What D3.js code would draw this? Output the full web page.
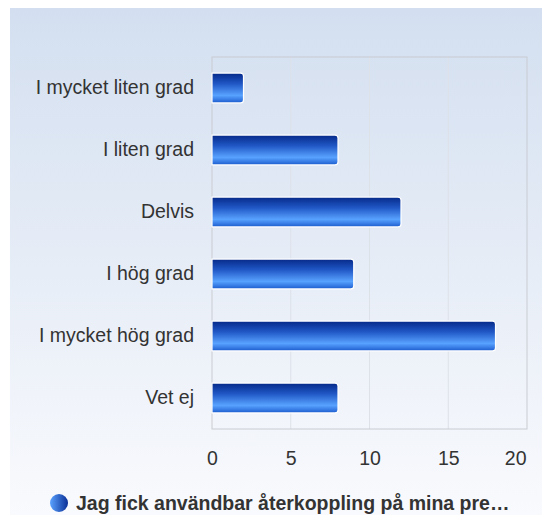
<!DOCTYPE html>
<html>
<head>
<meta charset="utf-8">
<script src="https://cdn.jsdelivr.net/npm/d3@7"></script>
<style>
  body { margin: 0; background: #fff; }
  svg { display: block; font-family: "Liberation Sans", Arial, sans-serif; }
</style>
</head>
<body>
<div id="chart"></div>
<script>
var width = 542;
var height = 515;

// data
var categories = ['I mycket liten grad', 'I liten grad', 'Delvis', 'I hög grad', 'I mycket hög grad', 'Vet ej'];
var values = [2, 8, 12, 9, 18, 8];
var xTicks = [0, 5, 10, 15, 20];
var seriesName = 'Jag fick användbar återkoppling på mina pre…';

var plot = {left: 212, top: 57, right: 527, bottom: 429};
var fontSize = 19.5;

var svg = d3.select('#chart')
  .append('svg')
    .attr('width', width)
    .attr('height', height);

var defs = svg.append('defs');

// panel background
var bg = defs.append('linearGradient')
  .attr('id', 'bg').attr('x1', 0).attr('y1', 0).attr('x2', 0).attr('y2', 1);
bg.append('stop').attr('offset', '0%').attr('stop-color', '#d3dff0');
bg.append('stop').attr('offset', '100%').attr('stop-color', '#f9fafd');

// bar fill, vertical
var barGrad = defs.append('linearGradient')
  .attr('id', 'bar').attr('x1', 0).attr('y1', 0).attr('x2', 0).attr('y2', 1);
barGrad.append('stop').attr('offset', '0%').attr('stop-color', '#062a8a');
barGrad.append('stop').attr('offset', '35%').attr('stop-color', '#1f56c4');
barGrad.append('stop').attr('offset', '75%').attr('stop-color', '#58a2ff');
barGrad.append('stop').attr('offset', '100%').attr('stop-color', '#1d5ccf');

// legend marker, horizontal
var dot = defs.append('linearGradient')
  .attr('id', 'dot').attr('x1', 0).attr('y1', 0).attr('x2', 1).attr('y2', 0);
dot.append('stop').attr('offset', '0%').attr('stop-color', '#5aa2ff');
dot.append('stop').attr('offset', '100%').attr('stop-color', '#0a2f96');

svg.append('rect')
  .attr('x', 10).attr('y', 8)
  .attr('width', width - 10).attr('height', height - 8)
  .attr('fill', 'url(#bg)');

var x = d3.scaleLinear()
  .domain([0, 20])
  .range([plot.left, plot.right]);

var y = d3.scaleBand()
  .domain(categories)
  .range([plot.top, plot.bottom])
  .paddingInner(0.52)
  .paddingOuter(0.26);

// grid
svg.append('g')
  .selectAll('line')
  .data(xTicks.slice(1, -1))
  .join('line')
    .attr('x1', d => x(d)).attr('x2', d => x(d))
    .attr('y1', plot.top).attr('y2', plot.bottom)
    .attr('stroke', '#dde1e8').attr('stroke-width', 1);

svg.append('rect')
  .attr('x', plot.left).attr('y', plot.top)
  .attr('width', plot.right - plot.left).attr('height', plot.bottom - plot.top)
  .attr('fill', 'none').attr('stroke', '#c9ccd2').attr('stroke-width', 1);

// bars
var r = 3;
svg.append('g')
  .selectAll('path')
  .data(values)
  .join('path')
    .attr('d', function(d, i) {
      var x0 = x(0), x1 = x(d), y0 = y(categories[i]), h = y.bandwidth();
      return 'M' + x0 + ',' + y0 +
        'H' + (x1 - r) + 'Q' + x1 + ',' + y0 + ' ' + x1 + ',' + (y0 + r) +
        'V' + (y0 + h - r) + 'Q' + x1 + ',' + (y0 + h) + ' ' + (x1 - r) + ',' + (y0 + h) +
        'H' + x0 + 'Z';
    })
    .attr('fill', 'url(#bar)')
    .attr('stroke', '#ffffff')
    .attr('stroke-width', 1.2);

// category axis
var yAxis = svg.append('g')
  .attr('transform', 'translate(' + plot.left + ',0)')
  .call(d3.axisLeft(y).tickSize(0).tickPadding(18));
yAxis.select('.domain').remove();
yAxis.selectAll('text')
  .attr('font-size', fontSize)
  .attr('font-family', '"Liberation Sans", Arial, sans-serif')
  .attr('fill', '#333');

// value axis
var xAxis = svg.append('g')
  .attr('transform', 'translate(0,' + plot.bottom + ')')
  .call(d3.axisBottom(x).tickValues(xTicks).tickSize(0).tickPadding(22));
xAxis.select('.domain').remove();
xAxis.selectAll('text')
  .attr('font-size', fontSize)
  .attr('font-family', '"Liberation Sans", Arial, sans-serif')
  .attr('fill', '#333');
// last label is pulled inside the panel
xAxis.selectAll('.tick')
  .filter(d => d === xTicks[xTicks.length - 1])
  .select('text')
    .attr('text-anchor', 'end')
    .attr('dx', -1);

// legend
var legend = svg.append('g').attr('transform', 'translate(59,503)');
legend.append('circle')
  .attr('r', 9)
  .attr('fill', 'url(#dot)');
legend.append('text')
  .attr('x', 17).attr('y', 7)
  .attr('font-size', fontSize)
  .attr('font-weight', 'bold')
  .attr('fill', '#333')
  .text(seriesName);
</script>
</body>
</html>
